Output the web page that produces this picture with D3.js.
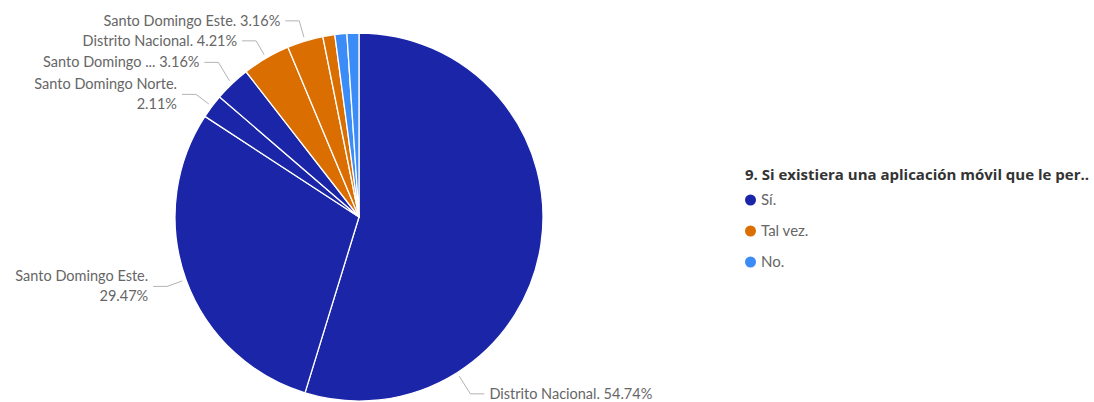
<!DOCTYPE html>
<html>
<head>
<meta charset="utf-8">
<script src="https://cdn.jsdelivr.net/npm/d3@7"></script>
<style>
  html, body { margin: 0; padding: 0; background: #ffffff; }
  svg { display: block; }
  text { font-family: "Segoe UI", Lato, "Open Sans", sans-serif; }
  text.legend-title { font-family: "Segoe UI", "Open Sans", Lato, sans-serif; }
</style>
</head>
<body>
<svg id="chart" width="1094" height="402"></svg>
<script>
// Answers to question 9, broken down by response and by location (percent of respondents)
const legendTitle = "9. Si existiera una aplicación móvil que le per..";
const categories = ["Sí.", "Tal vez.", "No."];
const categoryColors = ["#1b25a8", "#db6e00", "#3b8cf6"];
const sliceCategory = ["Sí.", "Sí.", "Sí.", "Sí.", "Tal vez.", "Tal vez.", "Tal vez.", "No.", "No."];
const sliceNames = ["Distrito Nacional", "Santo Domingo Este", "Santo Domingo Norte", "Santo Domingo ...",
                    "Distrito Nacional", "Santo Domingo Este", "Santo Domingo Norte",
                    "Distrito Nacional", "Santo Domingo Este"];
const sliceValues = [54.74, 29.47, 2.11, 3.16, 4.21, 3.16, 1.05, 1.05, 1.05];
const labelMinValue = 2;

const slices = sliceValues.map((v, i) => ({
  name: sliceNames[i], category: sliceCategory[i], value: v
}));

const svg = d3.select("#chart");
const cx = 359, cy = 217, radius = 184;
const labelSize = 14.5;

const color = d3.scaleOrdinal().domain(categories).range(categoryColors);

const pie = d3.pie().sort(null).value(d => d.value);
const arcs = pie(slices);
const arc = d3.arc().innerRadius(0).outerRadius(radius);

const g = svg.append("g").attr("transform", `translate(${cx},${cy})`);

g.selectAll("path.slice")
  .data(arcs)
  .enter().append("path")
  .attr("class", "slice")
  .attr("d", arc)
  .attr("fill", d => color(d.data.category))
  .attr("stroke", "#ffffff")
  .attr("stroke-width", 1.3)
  .attr("stroke-linejoin", "round");

// ---- data labels with leader lines ----
const pt = (rad, a) => [rad * Math.sin(a), -rad * Math.cos(a)];
const total = d3.sum(sliceValues);
const lineH = 20;
const nameText = n => n.endsWith("...") ? n : `${n}.`;
const pctText = v => `${v.toFixed(2)}%`;

const labels = arcs.filter(d => d.data.value >= labelMinValue).map(d => {
  const share = d.data.value / total;
  // large slices anchor their label further along the arc
  const a = d.startAngle + (d.endAngle - d.startAngle) * (share > 0.5 ? 0.75 : 0.5);
  const right = Math.sin(a) >= 0;
  const start = pt(radius + 4, a);
  const elbow = pt(radius + (share > 0.5 ? 25 : 20), a);
  return { d, a, right, start, elbow, y: elbow[1],
           text: `${nameText(d.data.name)} ${pctText(d.data.value)}`,
           lines: null };
});

// measure text to decide whether a label wraps onto two lines
const measure = svg.append("text").attr("font-size", labelSize).attr("visibility", "hidden");
labels.forEach(l => {
  measure.text(l.text);
  const w = measure.node().getComputedTextLength();
  const endX = cx + l.elbow[0] + (l.right ? 19 : -19);
  const avail = l.right ? (720 - endX) : (endX - 4);
  l.lines = w > avail ? [nameText(l.d.data.name), pctText(l.d.data.value)] : [l.text];
});
measure.remove();

// push overlapping labels apart on each side
["left", "right"].forEach(side => {
  const group = labels.filter(l => (side === "right") === l.right)
    .sort((p, q) => q.y - p.y);
  let prevTop = Infinity;
  group.forEach(l => {
    const half = l.lines.length > 1 ? 22 : 10;
    l.y = Math.min(l.y, prevTop - half);
    prevTop = l.y - half;
  });
});

const lg = g.append("g");
labels.forEach(l => {
  const dir = l.right ? 1 : -1;
  const ex = l.elbow[0];
  const hx = ex + dir * 14;
  lg.append("polyline")
    .attr("points", [l.start, [ex, l.y], [hx, l.y]].map(p => p.join(",")).join(" "))
    .attr("fill", "none")
    .attr("stroke", "#b3b3b3")
    .attr("stroke-width", 1);
  const t = lg.append("text")
    .attr("x", hx + dir * 5)
    .attr("y", l.y)
    .attr("text-anchor", l.right ? "start" : "end")
    .attr("font-size", labelSize)
    .attr("fill", "#666666");
  const n = l.lines.length;
  l.lines.forEach((s, i) => {
    t.append("tspan")
      .attr("x", hx + dir * 5)
      .attr("y", l.y + (i - (n - 1) / 2) * lineH)
      .attr("dy", "0.35em")
      .text(s);
  });
});

// ---- legend ----
const legend = svg.append("g").attr("transform", "translate(745,175)");
legend.append("text")
  .attr("class", "legend-title")
  .attr("x", 0).attr("y", 0).attr("dy", "0.35em")
  .attr("font-size", 15).attr("font-weight", "bold")
  .attr("fill", "#333333")
  .text(legendTitle);

const items = legend.selectAll("g.item")
  .data(categories)
  .enter().append("g")
  .attr("class", "item")
  .attr("transform", (d, i) => `translate(0,${25 + i * 31})`);
items.append("circle")
  .attr("cx", 5.5).attr("cy", 0).attr("r", 5.5)
  .attr("fill", d => color(d));
items.append("text")
  .attr("x", 16).attr("y", 0).attr("dy", "0.35em")
  .attr("font-size", 15)
  .attr("fill", "#666666")
  .text(d => d);
</script>
</body>
</html>
